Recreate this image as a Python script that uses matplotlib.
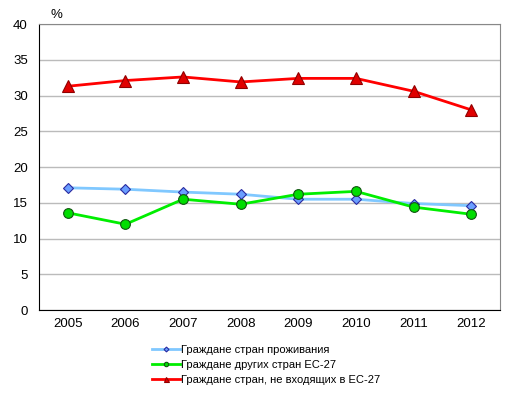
import matplotlib
matplotlib.use('Agg')
import matplotlib.pyplot as plt
import numpy as np

plt.rcParams['font.family'] = ['Liberation Sans', 'DejaVu Sans']

years = ['2005', '2006', '2007', '2008', '2009', '2010', '2011', '2012']
residents = [17.1, 16.9, 16.5, 16.2, 15.5, 15.5, 14.9, 14.6]
other_eu = [13.6, 12.0, 15.5, 14.8, 16.2, 16.6, 14.4, 13.4]
non_eu = [31.3, 32.1, 32.6, 31.9, 32.4, 32.4, 30.6, 28.0]
labels = ['Граждане стран проживания',
          'Граждане других стран ЕС-27',
          'Граждане стран, не входящих в ЕС-27']

fig = plt.figure(figsize=(5.16, 3.94), dpi=100)
ax = fig.add_axes([0.0756, 0.213, 0.8934, 0.726])

x = np.arange(len(years))
ax.plot(x, residents, color='#80C8FF', lw=2, marker='D', ms=5.5,
        mfc='#6A9EFF', mec='#2A2AA0', mew=0.8, label=labels[0])
ax.plot(x, other_eu, color='#00EE00', lw=2, marker='o', ms=7,
        mfc='#00DD00', mec='#115511', mew=0.8, label=labels[1])
ax.plot(x, non_eu, color='#FF0000', lw=2, marker='^', ms=8,
        mfc='#E00000', mec='#900000', mew=0.8, label=labels[2])

ax.set_xlim(-0.5, len(years) - 0.5)
ax.set_ylim(0, 40)
ax.set_yticks(range(0, 41, 5))
ax.set_xticks(x)
ax.set_xticklabels(years)
ax.tick_params(length=0, labelsize=9.5, pad=6)
ax.tick_params(axis='y', pad=8)
ax.yaxis.grid(True, color='#BBBBBB', lw=1)
ax.set_axisbelow(True)
ax.spines['left'].set_color('black')
ax.spines['bottom'].set_color('black')
ax.spines['top'].set_color('#888888')
ax.spines['right'].set_color('#888888')

fig.text(0.098, 0.962, '%', fontsize=9.5, ha='left', va='center')

ax.legend(loc='upper center', bbox_to_anchor=(0.493, -0.101), frameon=False,
          fontsize=8, markerscale=0.45, handlelength=2.5, handletextpad=0.1,
          labelspacing=0.45, borderpad=0)

fig.savefig('out.png', dpi=100)
